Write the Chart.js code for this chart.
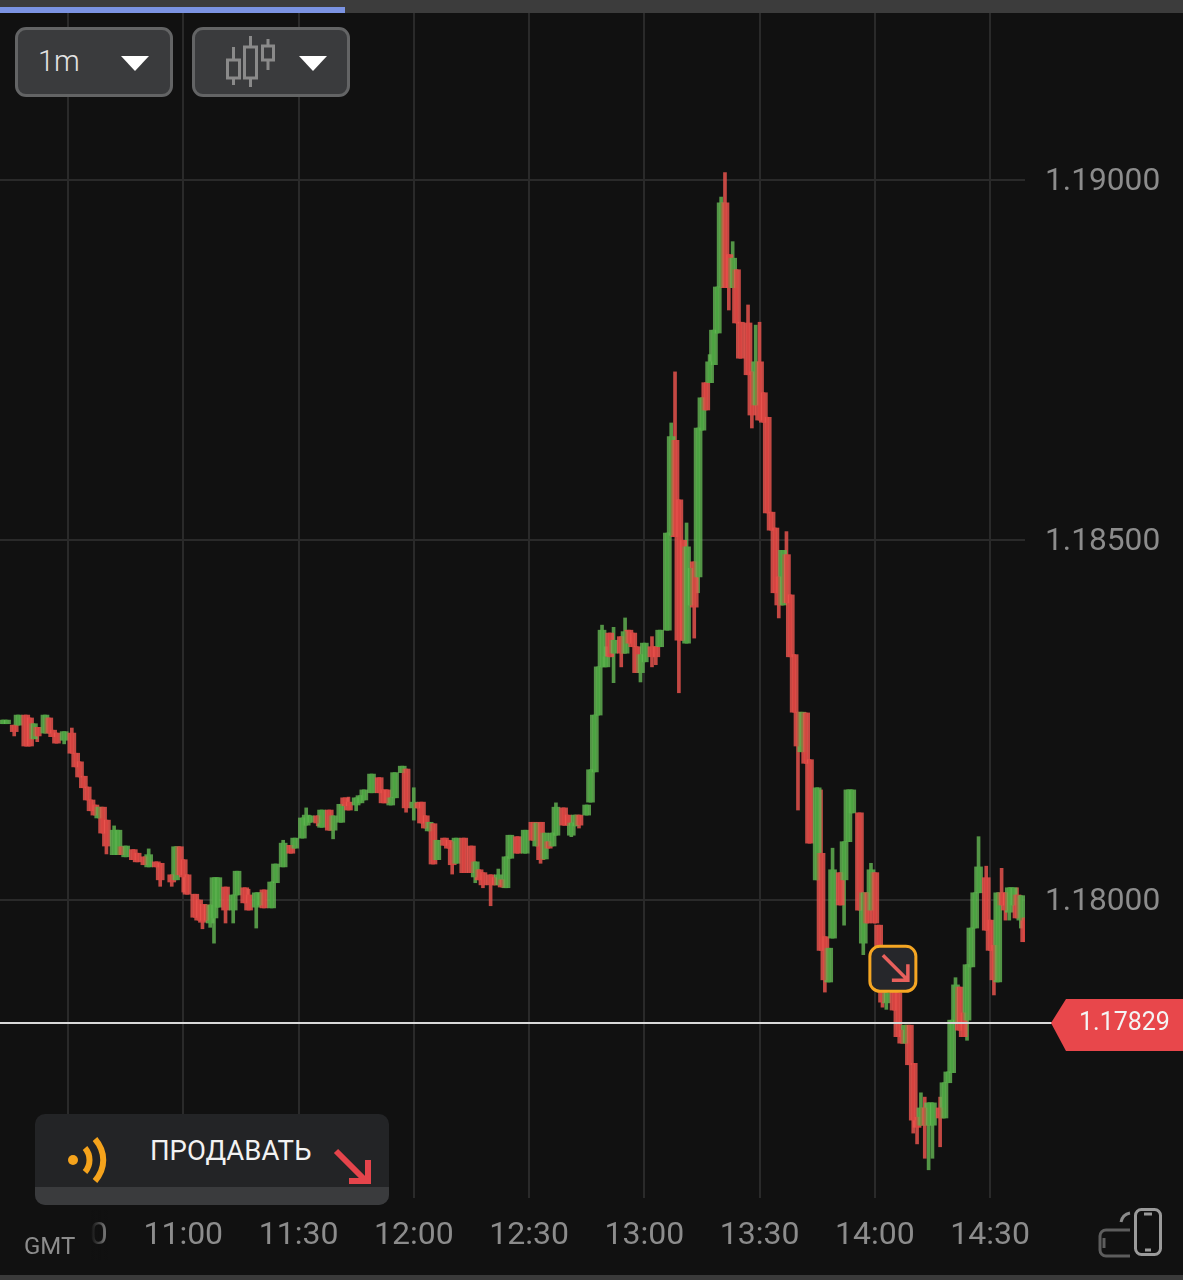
<!DOCTYPE html>
<html>
<head>
<meta charset="utf-8">
<title>1m</title>
<script src="https://cdn.jsdelivr.net/npm/chart.js@4"></script>
<style>
  html, body { margin: 0; padding: 0; background: #111111; }
  body { position: relative; width: 1183px; height: 1280px; overflow: hidden; font-family: Roboto, sans-serif; }
  canvas { position: absolute; left: 0; top: 0; }
  .abs { position: absolute; }
  .btn { top: 27px; width: 152px; height: 64px; background: #3a3b3d; border: 3px solid #636465; border-radius: 11px; }
</style>
</head>
<body>
<canvas id="chart" width="1183" height="1280"></canvas>

<div class="abs" style="left:0;top:0;width:1183px;height:13px;background:#3c3c3c"></div>
<div class="abs" style="left:0;top:7px;width:345px;height:6px;background:#7b93e2"></div>
<div class="abs" style="left:0;top:1275px;width:1183px;height:5px;background:#3a3a3a"></div>

<div class="abs btn" style="left:15px"></div>
<div class="abs" style="left:38px;top:44px;font-size:29px;font-weight:300;color:#e4e4e4">1m</div>
<svg class="abs" style="left:121px;top:56px" width="28" height="15"><polygon points="0,0 28,0 14,15" fill="#fff"/></svg>

<div class="abs btn" style="left:192px"></div>
<svg class="abs" style="left:222px;top:34px" width="56" height="56" fill="none" stroke="#8a8a8a" stroke-width="3">
  <rect x="5.5" y="26" width="12" height="18"/><path d="M11.5 13V26M11.5 44V51"/>
  <rect x="22.5" y="13" width="12" height="31"/><path d="M28.5 2V13M28.5 44V53"/>
  <rect x="40.5" y="12" width="11" height="14"/><path d="M46 5V12M46 26V36"/>
</svg>
<svg class="abs" style="left:299px;top:56px" width="28" height="15"><polygon points="0,0 28,0 14,15" fill="#fff"/></svg>

<div class="abs" style="left:0;top:1210px;width:108px;height:50px;background:linear-gradient(to right,#111111 84%,rgba(17,17,17,.55) 92%,rgba(17,17,17,0))"></div>
<div class="abs" style="left:24px;top:1232px;font-size:24px;color:#8c8c8c">GMT</div>

<div class="abs" style="left:35px;top:1114px;width:354px;height:91px;border-radius:10px;overflow:hidden;background:#232426">
  <div class="abs" style="left:0;top:73px;width:354px;height:18px;background:#3a3b3d"></div>
</div>
<svg class="abs" style="left:60px;top:1134px" width="55" height="52" fill="none" stroke="#f5a31c" stroke-width="6" stroke-linecap="butt">
  <circle cx="13" cy="26" r="5" fill="#f5a31c" stroke="none"/>
  <path d="M25 14C31 21 31 31 25 38"/>
  <path d="M35 5C46 18 46 34 35 47"/>
</svg>
<div class="abs" style="left:150px;top:1134px;font-size:27.5px;color:#f2f2f2;white-space:nowrap">ПРОДАВАТЬ</div>
<svg class="abs" style="left:333px;top:1148px" width="40" height="38" fill="none" stroke="#e5444b" stroke-width="6">
  <path d="M3 3L33 33"/><path d="M16 33H35V12"/>
</svg>

<svg class="abs" style="left:1097px;top:1206px" width="68" height="52" fill="none" stroke-width="3">
  <path d="M33 24H9a6 6 0 0 0-6 6v14a6 6 0 0 0 6 6h24" stroke="#5d5d5d"/>
  <path d="M7 32V42" stroke="#5d5d5d"/>
  <path d="M24 16C25 11 28 8 33 7" stroke="#8a8a8a"/>
  <rect x="38.5" y="3.5" width="25" height="45" rx="6" stroke="#9a9a9a"/>
  <path d="M47 8H55M48 44H54" stroke="#9a9a9a"/>
</svg>

<script>
const n = null;

// minute of the day for each candle (GMT)
const minutes = [
  613,614,616,617,619,620,621,622,624,625,
  626,627,629,631,632,633,634,635,636,637,
  638,639,640,642,643,644,645,647,648,650,
  651,653,654,657,658,659,660,661,663,664,
  665,666,667,668,669,671,673,674,676,677,
  679,680,681,683,684,686,688,689,691,692,
  693,695,696,698,699,701,702,703,705,706,
  707,709,711,712,713,714,715,717,718,720,
  721,722,723,724,725,726,728,729,730,731,
  733,735,736,737,738,740,741,742,743,744,
  745,747,749,751,752,753,754,755,756,757,
  759,760,761,762,763,765,766,767,768,769,
  770,771,772,774,775,776,777,778,779,780,
  782,783,784,786,787,788,789,790,791,792,
  793,794,795,796,797,798,799,800,801,802,
  803,804,805,807,808,809,810,811,812,813,
  814,815,816,817,818,819,820,821,822,823,
  825,826,827,828,829,831,832,833,834,836,
  837,838,839,840,841,842,843,845,846,847,
  848,849,850,851,852,853,854,855,857,858,
  859,860,861,862,863,864,865,866,867,869,
  870,871,872,873,874,875,876,877,878,879
];
const opens = [
  1.18245,1.18245,1.18243,1.18243,1.18257,1.18253,1.18224,1.18240,1.18232,1.18253,
  1.18236,1.18232,1.18222,1.18232,1.18204,1.18192,1.18172,1.18157,1.18139,1.18132,
  1.18114,1.18129,1.18111,1.18063,1.18063,1.18074,1.18060,1.18070,1.18065,1.18060,
  1.18046,1.18053,1.18051,1.18035,1.18028,1.18074,1.18056,1.18035,1.18008,1.18000,
  1.17994,1.17993,1.17968,1.17975,1.17990,1.18018,1.17986,1.18007,1.18017,1.18007,
  1.17990,1.17993,1.18014,1.17989,1.18024,1.18046,1.18076,1.18072,1.18086,1.18104,
  1.18108,1.18117,1.18101,1.18125,1.18097,1.18108,1.18142,1.18136,1.18132,1.18135,
  1.18139,1.18149,1.18170,1.18153,1.18153,1.18132,1.18142,1.18177,1.18182,1.18128,
  1.18135,1.18136,1.18117,1.18096,1.18106,1.18056,1.18086,1.18083,1.18081,1.18051,
  1.18086,1.18075,1.18032,1.18042,1.18038,1.18035,1.18031,1.18021,1.18028,1.18017,
  1.18058,1.18088,1.18065,1.18108,1.18075,1.18108,1.18057,1.18081,1.18075,1.18090,
  1.18128,1.18118,1.18090,1.18103,1.18118,1.18118,1.18136,1.18178,1.18257,1.18324,
  1.18324,1.18371,1.18343,1.18366,1.18343,1.18375,1.18371,1.18352,1.18316,1.18331,
  1.18352,1.18352,1.18352,1.18375,1.18507,1.18639,1.18556,1.18500,1.18357,1.18410,
  1.18470,1.18449,1.18653,1.18719,1.18719,1.18744,1.18788,1.18852,1.18969,1.18897,
  1.18851,1.18876,1.18803,1.18802,1.18734,1.18688,1.18748,1.18705,1.18671,1.18539,
  1.18517,1.18449,1.18410,1.18480,1.18424,1.18341,1.18261,1.18206,1.18260,1.18195,
  1.18028,1.18065,1.17949,1.17886,1.17947,1.18038,1.18028,1.18081,1.18121,1.18121,
  1.17940,1.18010,1.17986,1.18038,1.17965,1.17937,1.17857,1.17882,1.17871,1.17819,
  1.17801,1.17826,1.17773,1.17698,1.17687,1.17711,1.17687,1.17687,1.17711,1.17697,
  1.17746,1.17760,1.17830,1.17879,1.17843,1.17833,1.17907,1.17961,1.18010,1.18031,
  1.17972,1.17937,1.17886,1.18010,1.18010,1.17983,1.17993,1.18007,1.17972,1.17975
];
const closes = [
  1.18250,1.18250,1.18234,1.18257,1.18214,1.18214,1.18245,1.18228,1.18257,1.18232,
  1.18227,1.18218,1.18234,1.18204,1.18185,1.18171,1.18156,1.18139,1.18124,1.18118,
  1.18129,1.18093,1.18075,1.18097,1.18097,1.18063,1.18075,1.18056,1.18053,1.18049,
  1.18063,1.18046,1.18028,1.18025,1.18074,1.18035,1.18032,1.18008,1.17976,1.17972,
  1.17969,1.17972,1.17993,1.18031,1.18031,1.17986,1.18007,1.18040,1.17996,1.17986,
  1.18010,1.18010,1.17989,1.18025,1.18050,1.18079,1.18065,1.18086,1.18114,1.18118,
  1.18117,1.18107,1.18125,1.18097,1.18117,1.18133,1.18131,1.18125,1.18142,1.18145,
  1.18153,1.18175,1.18149,1.18135,1.18135,1.18142,1.18177,1.18186,1.18128,1.18136,
  1.18128,1.18107,1.18100,1.18108,1.18050,1.18083,1.18076,1.18072,1.18049,1.18086,
  1.18038,1.18038,1.18053,1.18028,1.18021,1.18021,1.18021,1.18035,1.18018,1.18060,
  1.18090,1.18065,1.18097,1.18083,1.18107,1.18056,1.18093,1.18072,1.18093,1.18129,
  1.18104,1.18104,1.18107,1.18118,1.18104,1.18132,1.18181,1.18257,1.18324,1.18375,
  1.18338,1.18338,1.18361,1.18343,1.18373,1.18357,1.18352,1.18316,1.18341,1.18357,
  1.18338,1.18338,1.18375,1.18510,1.18644,1.18505,1.18361,1.18361,1.18491,1.18461,
  1.18407,1.18656,1.18698,1.18681,1.18748,1.18792,1.18852,1.18969,1.18851,1.18851,
  1.18892,1.18802,1.18753,1.18730,1.18674,1.18748,1.18667,1.18664,1.18538,1.18514,
  1.18427,1.18410,1.18486,1.18413,1.18338,1.18261,1.18214,1.18261,1.18190,1.18079,
  1.18156,1.17930,1.17889,1.17933,1.18042,1.17993,1.18081,1.18153,1.18153,1.17986,
  1.18010,1.17968,1.18042,1.17968,1.17935,1.17858,1.17871,1.17847,1.17810,1.17801,
  1.17826,1.17771,1.17694,1.17684,1.17711,1.17687,1.17718,1.17718,1.17697,1.17746,
  1.17761,1.17833,1.17882,1.17819,1.17810,1.17910,1.17961,1.18010,1.18046,1.17958,
  1.17930,1.17889,1.18010,1.17993,1.17986,1.18017,1.18017,1.17975,1.18006,1.17942
];
// n = no wick above / below the body
const highs = [
  n,n,n,n,n,n,n,n,n,n,
  n,n,n,1.18239,n,n,n,n,n,n,
  n,n,n,1.18103,n,n,n,n,n,n,
  1.18071,n,n,n,n,n,n,n,n,n,
  n,n,n,n,n,n,n,n,n,1.18015,
  n,n,n,n,n,1.18083,n,n,n,1.18128,
  n,n,n,n,n,n,n,1.18143,n,n,
  n,n,n,n,n,n,n,n,n,1.18156,
  n,n,n,n,n,n,n,n,n,n,
  n,n,n,n,n,n,n,1.18043,n,n,
  n,n,n,n,n,n,n,n,n,1.18135,
  n,n,n,n,n,n,n,n,n,1.18382,
  1.18352,n,1.18379,n,1.18392,n,n,n,n,n,
  1.18366,n,n,n,1.18663,1.18734,n,n,1.18524,n,
  n,n,n,n,1.18758,n,n,1.18977,1.19011,n,
  1.18915,n,n,1.18827,n,1.18799,1.18803,n,n,n,
  n,n,n,1.18512,n,n,n,n,n,n,
  n,1.18153,n,n,1.18072,n,n,n,n,n,
  n,n,1.18051,n,n,n,n,n,n,n,
  n,n,n,n,1.17732,1.17726,n,n,1.17726,n,
  n,n,1.17892,n,n,n,n,n,1.18088,1.18047,
  n,n,n,1.18044,n,n,n,1.18017,n,n
];
const lows = [
  n,n,1.18228,n,n,n,n,1.18220,n,n,
  n,n,1.18217,n,n,n,n,n,n,n,
  n,n,1.18064,n,n,n,n,n,n,n,
  n,n,1.18019,1.18019,n,n,1.18011,n,n,n,
  1.17960,n,1.17962,1.17940,n,1.17968,1.17968,n,n,n,
  1.17961,n,n,n,n,n,n,n,n,n,
  n,1.18103,n,n,1.18085,n,n,n,1.18124,n,
  n,n,n,n,n,n,n,n,1.18122,1.18111,
  n,n,n,n,n,n,n,n,1.18036,n,
  n,n,1.18024,n,1.18017,1.17992,n,n,n,n,
  n,n,n,n,n,1.18051,n,n,n,n,
  n,n,1.18088,n,1.18100,n,n,n,n,n,
  n,n,1.18302,1.18324,n,n,n,n,1.18303,n,
  1.18324,1.18327,n,n,n,n,1.18288,n,n,n,
  1.18364,1.18427,n,n,n,n,n,n,n,1.18820,
  n,n,n,n,1.18656,n,n,n,n,n,
  n,1.18392,n,n,n,n,1.18125,n,n,n,
  n,n,1.17872,n,n,n,1.17965,n,n,n,
  1.17924,n,n,n,n,1.17851,1.17848,n,n,n,
  n,n,1.17676,1.17661,n,1.17641,1.17625,1.17641,1.17657,n,
  n,n,n,n,n,1.17805,n,n,n,n,
  n,1.17868,n,n,1.17972,1.17972,n,n,1.17961,n
];

const xTickMinutes = [630, 660, 690, 720, 750, 780, 810, 840, 870];
const xTickLabels = ['10:30', '11:00', '11:30', '12:00', '12:30', '13:00', '13:30', '14:00', '14:30'];
const yTicks = [1.18, 1.185, 1.19];
const lastPrice = 1.17829;
const signalMinute = 844.7;
const signalPrice = 1.17905;

const upColor = 'rgba(100,182,84,0.8)';
const downColor = 'rgba(236,84,78,0.82)';
const upCore = 'rgba(52,148,46,0.45)';
const downCore = 'rgba(196,50,52,0.45)';

const isUp = closes.map((c, i) => c >= opens[i]);
const bodyPoints = minutes.map((m, i) => ({ x: m, y: [opens[i], closes[i]] }));
const wickPoints = minutes.map((m, i) => ({
  x: m,
  y: [lows[i] ?? Math.min(opens[i], closes[i]), highs[i] ?? Math.max(opens[i], closes[i])]
}));

// price line, price tag and signal marker sit on top of the candles
const overlay = {
  id: 'overlay',
  afterDraw(chart) {
    const c = chart.ctx;
    const y = chart.scales.y.getPixelForValue(lastPrice);
    c.save();
    c.strokeStyle = '#d9d9d9';
    c.lineWidth = 2;
    c.beginPath();
    c.moveTo(0, y);
    c.lineTo(1052, y);
    c.stroke();

    c.fillStyle = '#e8474b';
    c.beginPath();
    c.moveTo(1051, y);
    c.lineTo(1066, y - 24);
    c.lineTo(1183, y - 24);
    c.lineTo(1183, y + 28);
    c.lineTo(1066, y + 28);
    c.closePath();
    c.fill();
    c.fillStyle = '#f4f4f4';
    c.font = '25px Roboto';
    c.textBaseline = 'middle';
    c.fillText(lastPrice.toFixed(5), 1079, y + 1);

    const mx = chart.scales.x.getPixelForValue(signalMinute);
    const my = chart.scales.y.getPixelForValue(signalPrice);
    c.beginPath();
    c.roundRect(mx - 23, my - 22, 46, 45, 10);
    c.fillStyle = '#26272b';
    c.fill();
    c.strokeStyle = '#f5a623';
    c.lineWidth = 3;
    c.stroke();
    c.strokeStyle = '#e8605c';
    c.lineWidth = 3.5;
    c.beginPath();
    c.moveTo(mx - 10, my - 13);
    c.lineTo(mx + 15, my + 12);
    c.moveTo(mx - 1, my + 12);
    c.lineTo(mx + 15, my + 12);
    c.lineTo(mx + 15, my - 4);
    c.stroke();
    c.restore();
  }
};

// keep the plot area to the full height, labels may overhang it
const noLabelMargins = s => {
  s.paddingTop = 0;
  s.paddingBottom = 0;
  s.paddingLeft = 0;
  s.paddingRight = 0;
};

new Chart(document.getElementById('chart'), {
  type: 'bar',
  data: {
    datasets: [
      { data: wickPoints, barThickness: 3, backgroundColor: isUp.map(u => u ? upColor : downColor), order: 3 },
      { data: bodyPoints, barThickness: 8, backgroundColor: isUp.map(u => u ? upColor : downColor), order: 2 },
      { data: bodyPoints, barThickness: 2, backgroundColor: isUp.map(u => u ? upCore : downCore), order: 1 }
    ]
  },
  options: {
    responsive: false,
    animation: false,
    grouped: false,
    layout: { padding: { top: 13, left: 0, right: 0, bottom: 0 } },
    borderSkipped: false,
    plugins: { legend: { display: false }, tooltip: { enabled: false } },
    scales: {
      x: {
        type: 'linear',
        offset: false,
        min: 612.3,
        max: 879.09,
        afterBuildTicks: s => { s.ticks = xTickMinutes.map(v => ({ value: v })); },
        afterFit: s => { s.height = 82; noLabelMargins(s); },
        grid: { color: '#2a2a2a', lineWidth: 2, drawTicks: false, offset: false },
        border: { display: false },
        ticks: {
          autoSkip: false,
          maxRotation: 0,
          padding: 19,
          color: '#8c8c8c',
          font: { family: 'Roboto', size: 32 },
          callback: v => xTickLabels[xTickMinutes.indexOf(v)]
        }
      },
      y: {
        position: 'right',
        min: 1.175858,
        max: 1.192328,
        afterBuildTicks: s => { s.ticks = yTicks.map(v => ({ value: v })); },
        afterFit: s => { s.width = 158; noLabelMargins(s); },
        grid: { color: '#2a2a2a', lineWidth: 2, drawTicks: false },
        border: { display: false },
        ticks: {
          padding: 20,
          labelOffset: 2,
          color: '#8c8c8c',
          font: { family: 'Roboto', size: 31.7 },
          callback: v => v.toFixed(5)
        }
      }
    }
  },
  plugins: [overlay]
});
</script>
</body>
</html>
